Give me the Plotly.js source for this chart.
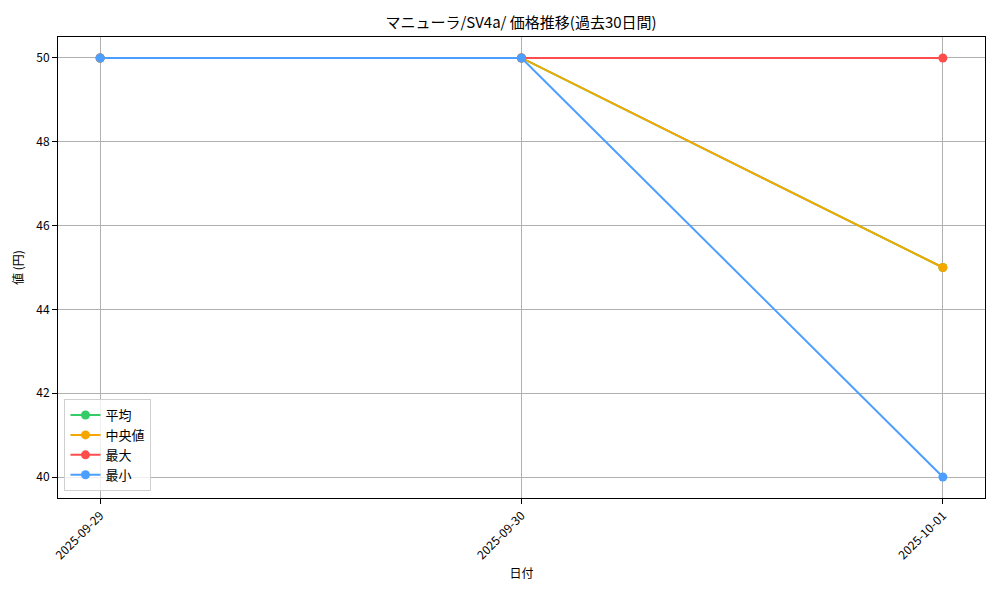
<!DOCTYPE html>
<html>
<head>
<meta charset="utf-8">
<script src="https://cdn.plot.ly/plotly-3.0.1.min.js"></script>
<style>
  html, body { margin: 0; padding: 0; background: #fff; }
  #chart { width: 1000px; height: 600px; }
</style>
</head>
<body>
<div id="chart"></div>
<script>
const dates = ['2025-09-29', '2025-09-30', '2025-10-01'];
const meanValues = [50, 50, 45];
const medianValues = [50, 50, 45];
const maxValues = [50, 50, 50];
const minValues = [50, 50, 40];

const FONT = '"Noto Sans CJK JP", "DejaVu Sans", sans-serif';

function series(name, y, color) {
    return {
        x: dates,
        y: y,
        name: name,
        type: 'scatter',
        mode: 'lines+markers',
        line: { color: color, width: 2 },
        marker: { color: color, size: 9 }
    };
}

const data = [
    series('平均', meanValues, '#33cc66'),
    series('中央値', medianValues, '#f7a600'),
    series('最大', maxValues, '#ff4d4d'),
    series('最小', minValues, '#4d9fff')
];

const axisCommon = {
    showline: true,
    linecolor: '#000',
    linewidth: 1,
    mirror: true,
    ticks: 'outside',
    ticklen: 5,
    tickcolor: '#000',
    showgrid: true,
    gridcolor: '#b0b0b0',
    gridwidth: 1,
    zeroline: false,
    tickfont: { family: FONT, size: 12, color: '#000' }
};

const layout = {
    width: 1000,
    height: 600,
    margin: { l: 58, r: 15, t: 37, b: 102 },
    paper_bgcolor: '#fff',
    plot_bgcolor: '#fff',
    font: { family: FONT, color: '#000' },
    title: {
        text: 'マニューラ/SV4a/ 価格推移(過去30日間)',
        font: { family: FONT, size: 15, color: '#000' },
        x: 0.521, xanchor: 'center',
        y: 0.962, yanchor: 'middle'
    },
    xaxis: Object.assign({}, axisCommon, {
        type: 'category',
        range: [-0.1, 2.1],
        tickangle: -45,
        title: { text: '日付', font: { family: FONT, size: 12 }, standoff: 8 }
    }),
    yaxis: Object.assign({}, axisCommon, {
        range: [39.5, 50.5],
        tickvals: [40, 42, 44, 46, 48, 50],
        title: { text: '値 (円)', font: { family: FONT, size: 12 }, standoff: 10 }
    }),
    showlegend: true,
    legend: {
        x: 0.007, y: 0.015, xanchor: 'left', yanchor: 'bottom',
        bgcolor: 'rgba(255,255,255,0.8)',
        bordercolor: '#d0d0d0',
        borderwidth: 1,
        font: { family: FONT, size: 13, color: '#000' },
        tracegroupgap: 0
    }
};

Plotly.newPlot('chart', data, layout, { displayModeBar: false, staticPlot: true });
</script>
</body>
</html>
